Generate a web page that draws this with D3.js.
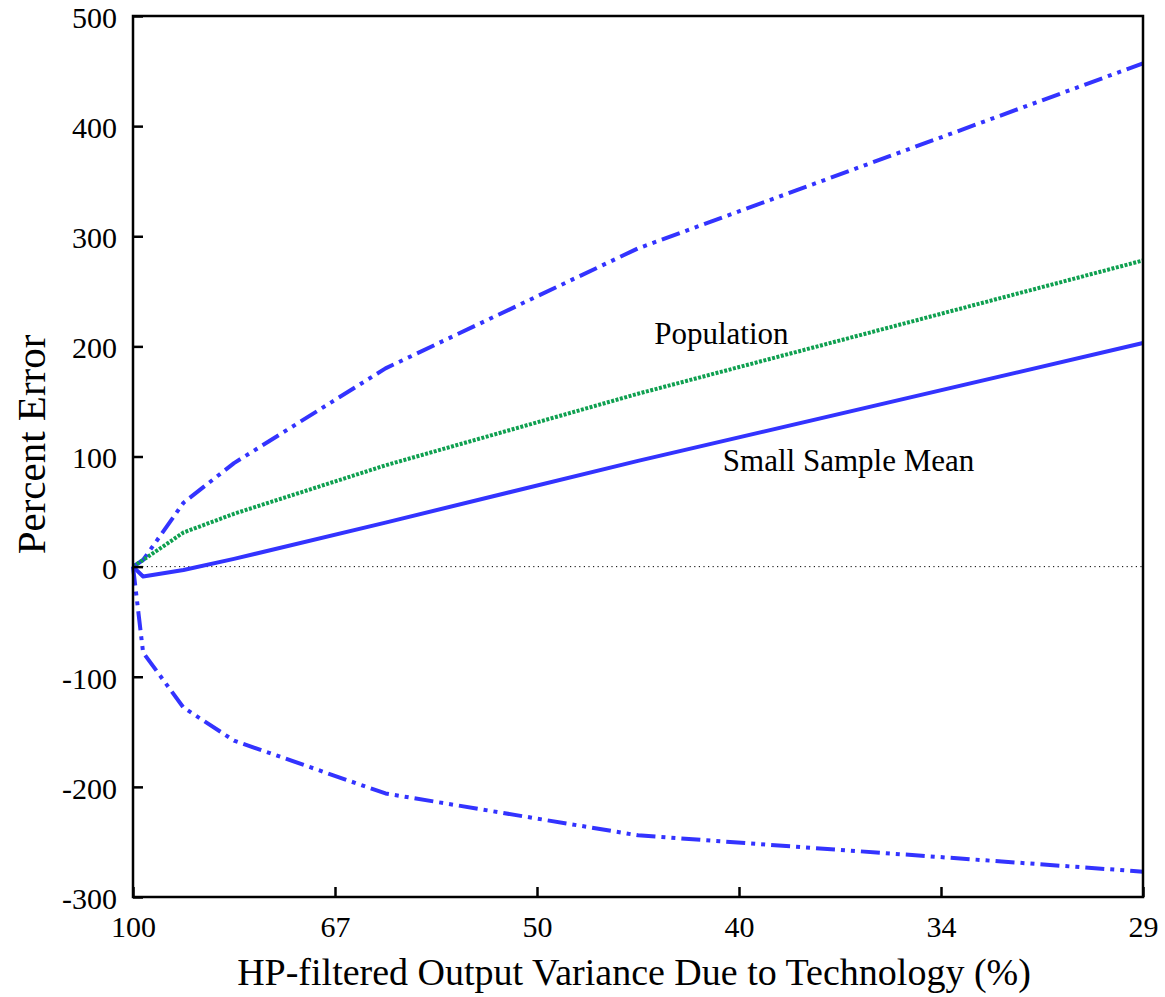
<!DOCTYPE html>
<html>
<head>
<meta charset="utf-8">
<script src="https://cdn.jsdelivr.net/npm/d3@7/dist/d3.min.js"></script>
<style>
  body { margin: 0; background: #fff; }
  text { font-family: "Liberation Serif", "Times New Roman", serif; }
</style>
</head>
<body>
<svg id="chart" width="1165" height="997"></svg>
<script>
// x positions are in tick-index units (0..5), ticks labelled by percentage
const tickLabels = ["100", "67", "50", "40", "34", "29"];
const xPos = [0, 0.05, 0.25, 0.5, 1.25, 2.5, 5];

const upperBand = [0, 6, 58, 94, 180, 289, 457];
const lowerBand = [0, -78, -128, -158, -206, -244, -277];
const population = [0, 6, 31, 48, 92, 157, 278];
const sampleMean = [0, -9, -3, 7, 40, 96, 203];

const yTicks = [-300, -200, -100, 0, 100, 200, 300, 400, 500];

const notes = [
  {text: "Population", x: 2.58, y: 202},
  {text: "Small Sample Mean", x: 2.92, y: 87}
];

const margin = {top: 16, right: 22, bottom: 100, left: 133};
const width = 1165 - margin.left - margin.right;
const height = 997 - margin.top - margin.bottom;

const svg = d3.select("#chart")
  .append("g")
  .attr("transform", "translate(" + margin.left + "," + margin.top + ")");

const x = d3.scaleLinear().domain([0, 5]).range([0, width]);
const y = d3.scaleLinear().domain([-300, 500]).range([height, 0]);

// zero line
svg.append("line")
  .attr("x1", 0).attr("x2", width)
  .attr("y1", y(0)).attr("y2", y(0))
  .attr("stroke", "#000")
  .attr("stroke-width", 1)
  .attr("stroke-dasharray", "1.2,3.4");

const line = d3.line()
  .x((d, i) => x(xPos[i]))
  .y(d => y(d));

const series = [
  {values: lowerBand, color: "#3333ff", dash: "19,6,4,6,4,6"},
  {values: upperBand, color: "#3333ff", dash: "19,6,4,6,4,6"},
  {values: population, color: "#0fa050", dash: "3,1.5"},
  {values: sampleMean, color: "#3333ff", dash: null}
];

svg.selectAll("path.series")
  .data(series)
  .enter()
  .append("path")
  .attr("class", "series")
  .attr("d", d => line(d.values))
  .attr("fill", "none")
  .attr("stroke", d => d.color)
  .attr("stroke-width", 4)
  .attr("stroke-linejoin", "round")
  .attr("stroke-dasharray", d => d.dash);

// axes, ticks pointing inward
const yAxis = svg.append("g")
  .call(d3.axisLeft(y).tickValues(yTicks).tickSize(-10).tickPadding(16).tickFormat(d => String(d)));
const xAxis = svg.append("g")
  .attr("transform", "translate(0," + height + ")")
  .call(d3.axisBottom(x).tickValues(d3.range(tickLabels.length)).tickSize(-10).tickPadding(22)
    .tickFormat(i => tickLabels[i]));

[yAxis, xAxis].forEach(a => {
  a.select(".domain").remove();
  a.selectAll(".tick line").attr("stroke", "#000").attr("stroke-width", 2.5);
  a.selectAll("text").attr("font-size", 30).attr("fill", "#000")
    .style("font-family", "'Liberation Serif', serif");
});
yAxis.selectAll("text").attr("dy", "0.38em");
xAxis.selectAll("text").attr("dy", "0.6em");

// frame
svg.append("rect")
  .attr("width", width).attr("height", height)
  .attr("fill", "none")
  .attr("stroke", "#000")
  .attr("stroke-width", 2.5);

svg.selectAll("text.note")
  .data(notes)
  .enter()
  .append("text")
  .attr("class", "note")
  .attr("x", d => x(d.x))
  .attr("y", d => y(d.y))
  .attr("font-size", 31)
  .text(d => d.text);

svg.append("text")
  .attr("x", width / 2 - 4)
  .attr("y", height + 88)
  .attr("text-anchor", "middle")
  .attr("font-size", 38)
  .text("HP-filtered Output Variance Due to Technology (%)");

svg.append("text")
  .attr("transform", "translate(" + (-88) + "," + (height / 2 - 12) + ") rotate(-90)")
  .attr("text-anchor", "middle")
  .attr("font-size", 41)
  .text("Percent Error");
</script>
</body>
</html>
